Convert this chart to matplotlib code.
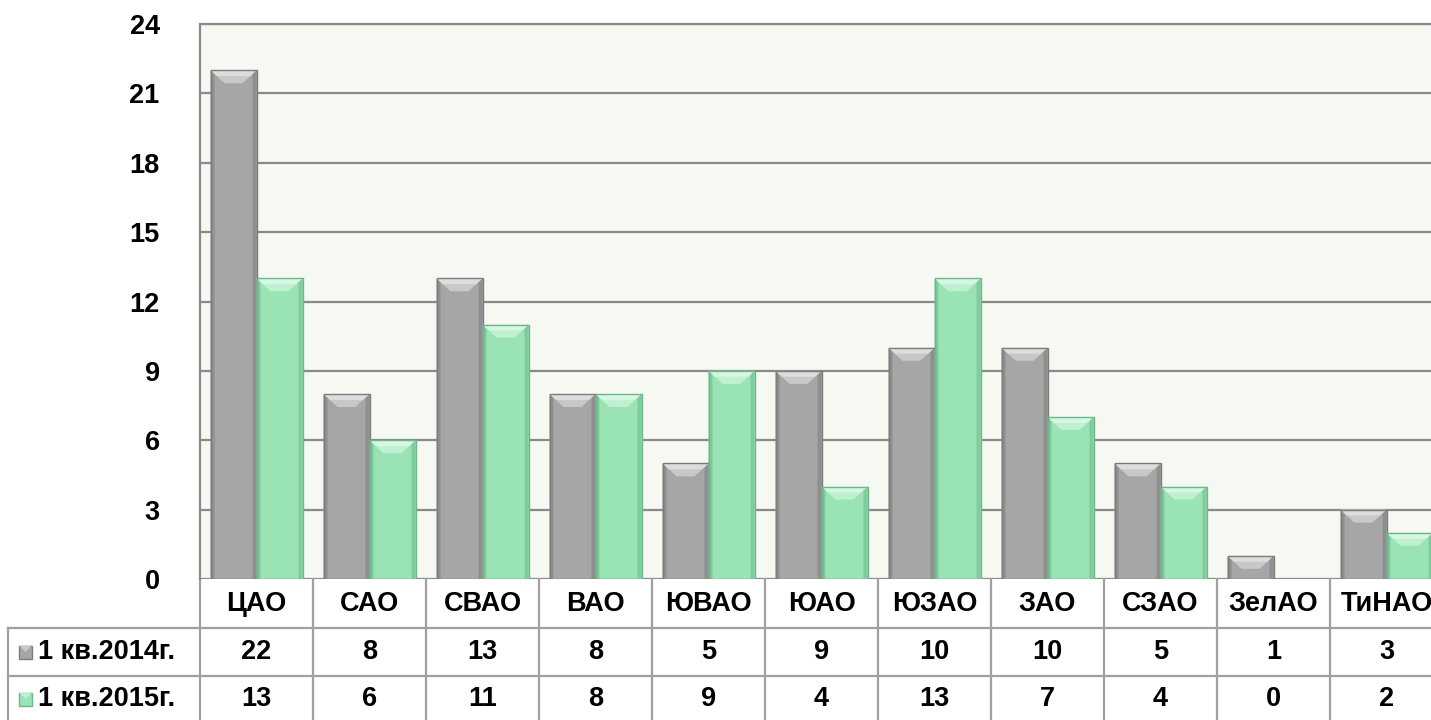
import numpy as np
import matplotlib
matplotlib.use("Agg")
import matplotlib.pyplot as plt
from matplotlib.patches import Polygon, Rectangle

plt.rcParams['font.family'] = ['Liberation Sans', 'DejaVu Sans']
plt.rcParams['font.weight'] = 'bold'

# data
districts = ['ЦАО', 'САО', 'СВАО', 'ВАО', 'ЮВАО', 'ЮАО', 'ЮЗАО', 'ЗАО', 'СЗАО', 'ЗелАО', 'ТиНАО']
series_names = ['1 кв.2014г.', '1 кв.2015г.']
q1_2014 = [22, 8, 13, 8, 5, 9, 10, 10, 5, 1, 3]
q1_2015 = [13, 6, 11, 8, 9, 4, 13, 7, 4, 0, 2]
y_ticks = [0, 3, 6, 9, 12, 15, 18, 21, 24]

# bar styles: main, side, top bevel, edge
styles = [
    dict(main='#A6A6A6', side='#8F8F8F', top='#C8C8C8', edge='#7C7C7C'),
    dict(main='#99E3B5', side='#80CC9D', top='#BDF1D1', edge='#6EB78B'),
]

W, H = 1431, 720
FS = 19.5
fig = plt.figure(figsize=(W / 100, H / 100), dpi=100)
fig.patch.set_facecolor('white')

# plot area in pixels: left 200, top 24, bottom 579, 113 px per category
ax = fig.add_axes([200 / W, (H - 579) / H, 11 * 113 / W, 555 / H])
ax.set_facecolor('#F6F8F2')
ax.set_xlim(-0.5, len(districts) - 0.5)
ax.set_ylim(0, 24)
ax.set_yticks(y_ticks)
ax.set_yticklabels([str(t) for t in y_ticks], fontsize=FS, fontweight='bold')
ax.tick_params(axis='y', length=0, pad=29)
ax.set_xticks([])
ax.grid(axis='y', color='#8A8A8A', linewidth=1.6)
ax.set_axisbelow(True)
for s in ['right', 'bottom']:
    ax.spines[s].set_visible(False)
for s in ['left', 'top']:
    ax.spines[s].set_color('#8A8A8A')
    ax.spines[s].set_linewidth(1.6)

ux = 1 / 113      # data x per pixel
uy = 24 / 555     # data y per pixel
bw = 46 / 113
x = np.arange(len(districts))
for k, vals in enumerate([q1_2014, q1_2015]):
    st = styles[k]
    bars = ax.bar(x + (k - 0.5) * bw, vals, width=bw, color=st['main'],
                  edgecolor='none', linewidth=0, zorder=3)
    for r in bars:
        h = r.get_height()
        if h <= 0:
            continue
        x0, w = r.get_x(), r.get_width()
        sw = 4 * ux
        sh = min(13 * uy, h * 0.6)
        ix = 14 * ux
        ax.add_patch(Polygon([(x0, 0), (x0, h), (x0 + sw, h - 4 * uy), (x0 + sw, 0)],
                             closed=True, facecolor=st['side'], edgecolor='none', zorder=4))
        ax.add_patch(Polygon([(x0 + w, 0), (x0 + w, h), (x0 + w - sw, h - 4 * uy), (x0 + w - sw, 0)],
                             closed=True, facecolor=st['side'], edgecolor='none', zorder=4))
        ax.add_patch(Polygon([(x0, h), (x0 + w, h), (x0 + w - ix, h - sh), (x0 + ix, h - sh)],
                             closed=True, facecolor=st['top'], edgecolor='none', zorder=4))
        ax.add_patch(Polygon([(x0, h), (x0 + w, h), (x0 + w - ix * 0.45, h - sh * 0.45),
                              (x0 + ix * 0.45, h - sh * 0.45)],
                             closed=True, facecolor='white', alpha=0.4, edgecolor='none', zorder=4))
        ax.add_patch(Rectangle((x0, 0), w, h, facecolor='none', edgecolor=st['edge'],
                               linewidth=1.0, zorder=5))

# data table below the plot
tr = ax.get_xaxis_transform()
py = 1 / 555  # axes y per pixel
grid_c = '#A0A0A0'
left_x = -0.5 - 192 / 113
row_lines = [-49 * py, -97 * py, -145 * py]
for i in range(len(districts) + 1):
    ax.plot([i - 0.5, i - 0.5], [0, -145 * py], transform=tr, color=grid_c,
            linewidth=1.6, clip_on=False)
for yl in row_lines:
    ax.plot([left_x, len(districts) - 0.5], [yl, yl], transform=tr, color=grid_c,
            linewidth=1.6, clip_on=False)
ax.plot([left_x, left_x], [row_lines[0], row_lines[2]], transform=tr, color=grid_c,
        linewidth=1.6, clip_on=False)

for i, name in enumerate(districts):
    ax.text(i, -25 * py, name, transform=tr, ha='center', va='center',
            fontsize=FS, fontweight='bold')
    ax.text(i, -73 * py, str(q1_2014[i]), transform=tr, ha='center', va='center',
            fontsize=FS, fontweight='bold')
    ax.text(i, -120 * py, str(q1_2015[i]), transform=tr, ha='center', va='center',
            fontsize=FS, fontweight='bold')

for k, (name, yc) in enumerate(zip(series_names, [-73 * py, -120 * py])):
    st = styles[k]
    tx = -0.5 - 162 / 113
    ax.text(tx, yc, name, transform=tr, ha='left', va='center',
            fontsize=FS, fontweight='bold')
    kx0 = -0.5 - 181 / 113
    kw = 13 / 113
    kh = 13 * py
    ax.add_patch(Rectangle((kx0, yc - kh / 2), kw, kh, transform=tr, facecolor=st['main'],
                           edgecolor=st['edge'], linewidth=1.0, clip_on=False))
    ax.add_patch(Polygon([(kx0, yc + kh / 2), (kx0 + kw, yc + kh / 2), (kx0 + kw / 2, yc)],
                         closed=True, transform=tr, facecolor=st['top'], edgecolor='none',
                         clip_on=False))

fig.savefig('out.png', dpi=100)
